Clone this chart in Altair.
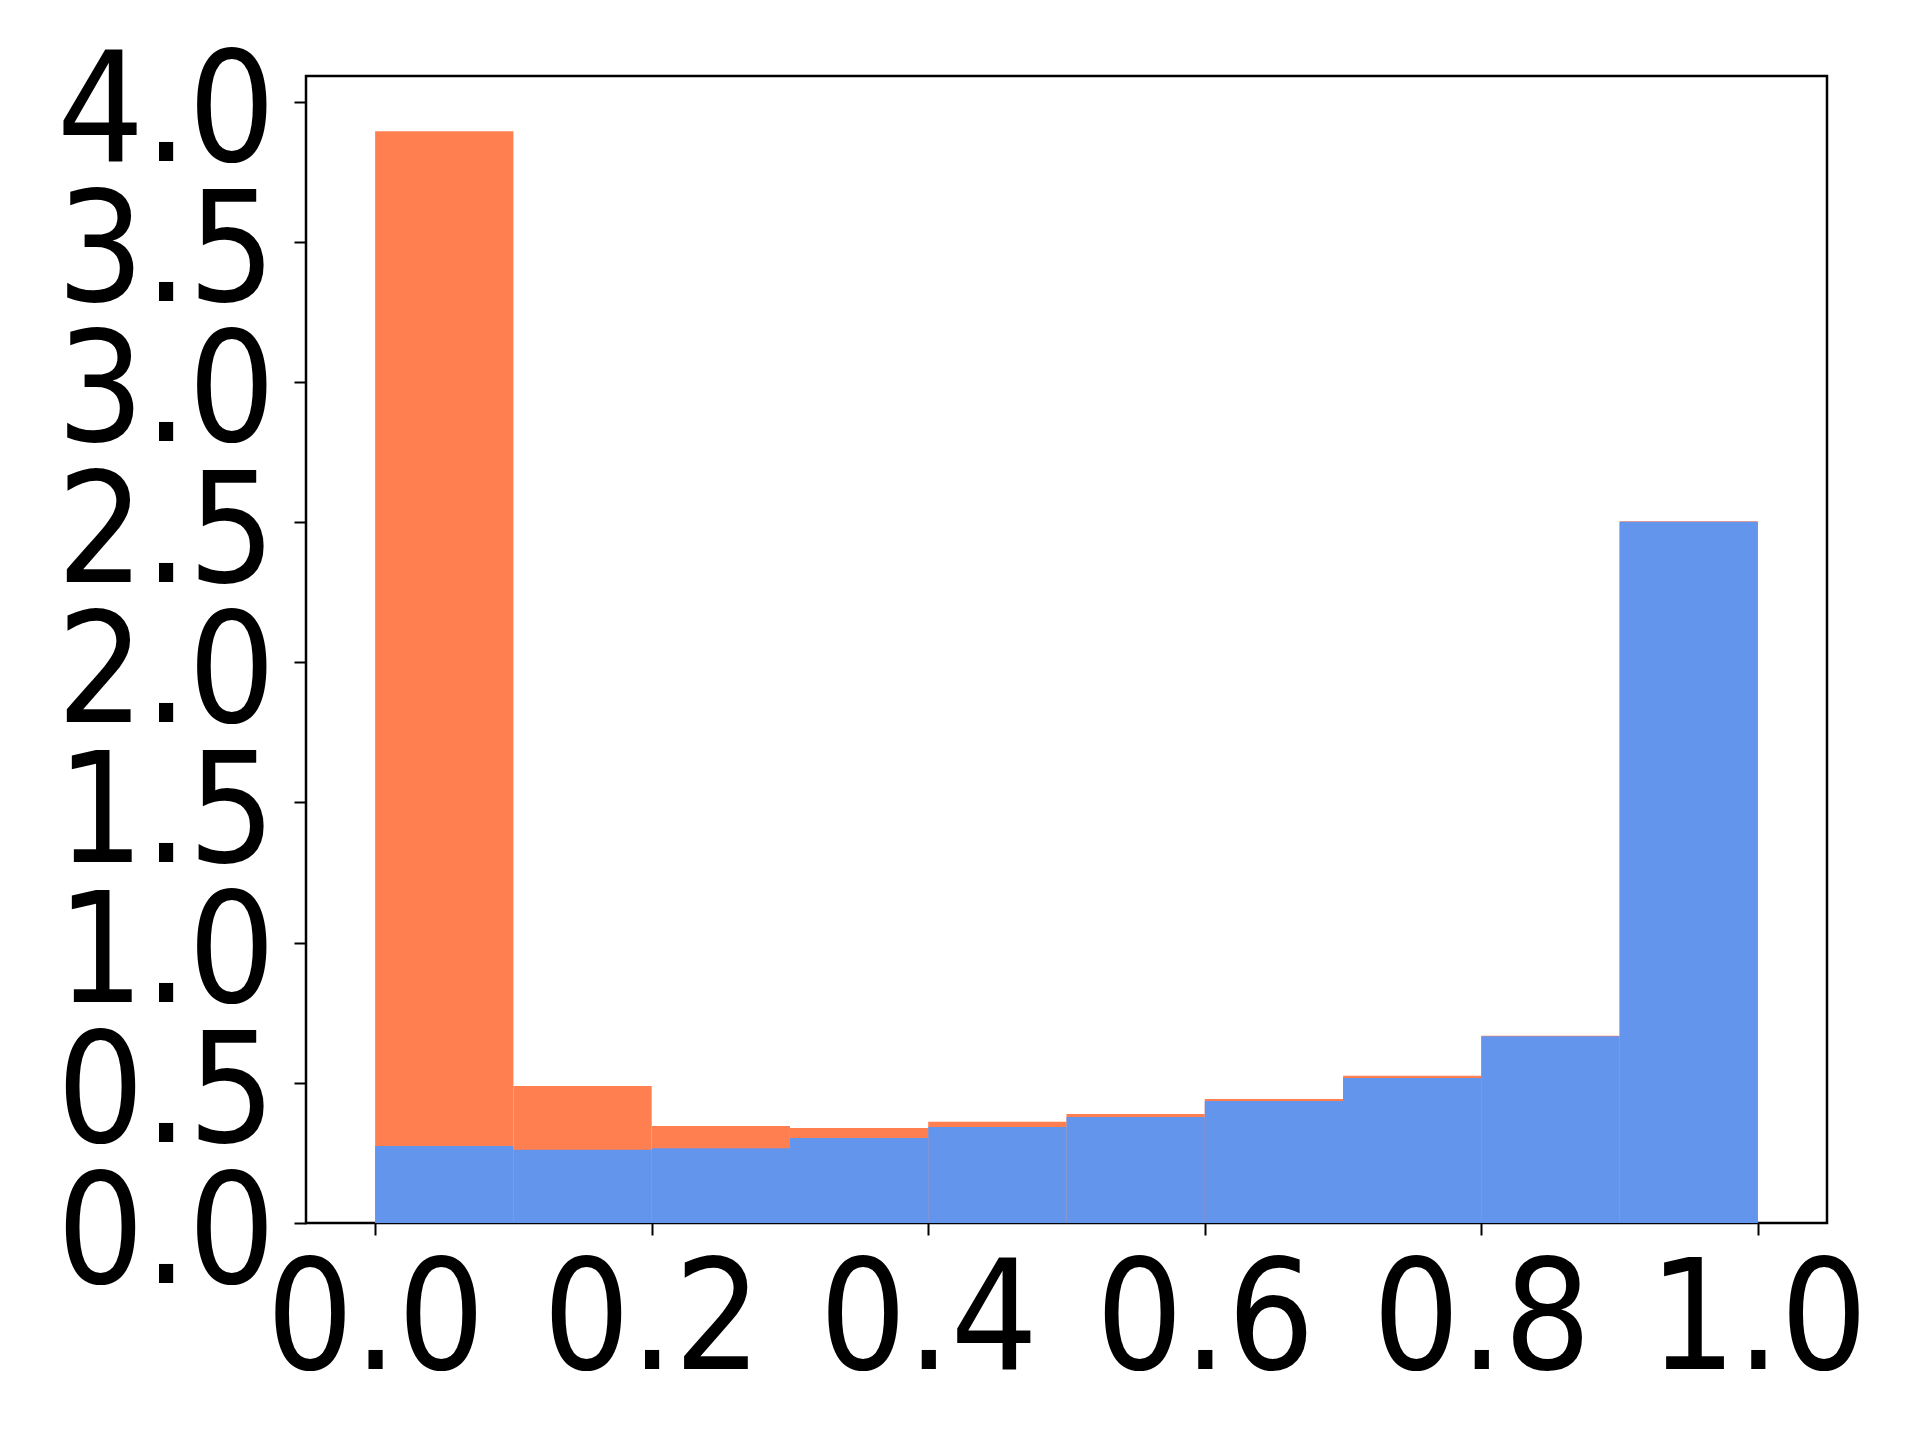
import altair as alt
import pandas as pd

bin_start = [0.0, 0.1, 0.2, 0.3, 0.4, 0.5, 0.6, 0.7, 0.8, 0.9]
bin_end = [0.1, 0.2, 0.3, 0.4, 0.5, 0.6, 0.7, 0.8, 0.9, 1.0]
orange_vals = [3.894, 0.489, 0.346, 0.339, 0.361, 0.389, 0.442, 0.525, 0.668, 2.503]
blue_vals = [0.275, 0.261, 0.267, 0.303, 0.342, 0.378, 0.435, 0.517, 0.666, 2.501]
x_ticks = [0.0, 0.2, 0.4, 0.6, 0.8, 1.0]
y_ticks = [0.0, 0.5, 1.0, 1.5, 2.0, 2.5, 3.0, 3.5, 4.0]

df_o = pd.DataFrame({"x0": bin_start, "x1": bin_end, "v": orange_vals, "z": [0.0] * 10})
df_b = pd.DataFrame({"x0": bin_start, "x1": bin_end, "v": blue_vals, "z": [0.0] * 10})

FONT = "DejaVu Sans Condensed, DejaVu Sans"
FS = 153
xscale = alt.Scale(domain=[-0.05, 1.05], nice=False, zero=False)
yscale = alt.Scale(domain=[0, 4.091], nice=False)

xaxis = alt.Axis(values=x_ticks, format=".1f", title=None, grid=False,
                 labelFontSize=FS, labelFont=FONT, labelColor="black",
                 tickSize=12, tickColor="black", tickWidth=2,
                 labelPadding=12, domain=False, labelFlush=False, labelOverlap=False,
                 labelLimit=2000)
yaxis = alt.Axis(values=y_ticks, format=".1f", title=None, grid=False,
                 labelFontSize=FS, labelFont=FONT, labelColor="black",
                 tickSize=12, tickColor="black", tickWidth=2,
                 labelPadding=19, domain=False, labelFlush=False, labelOverlap=False,
                 labelBaseline="middle", labelOffset=13, labelLimit=2000)

orange = alt.Chart(df_o).mark_rect(color="#FF7F50").encode(
    x=alt.X("x0:Q", scale=xscale, axis=xaxis),
    x2="x1:Q",
    y=alt.Y("v:Q", scale=yscale, axis=yaxis),
    y2="z:Q",
)
blue = alt.Chart(df_b).mark_rect(color="#6495ED").encode(
    x=alt.X("x0:Q", scale=xscale),
    x2="x1:Q",
    y=alt.Y("v:Q", scale=yscale),
    y2="z:Q",
)

chart = alt.layer(orange, blue).properties(
    width=1521, height=1147,
    autosize=alt.AutoSizeParams(type="none"),
    padding={"left": 298, "top": 68, "right": 80, "bottom": 200},
    background="white",
).configure_view(stroke="black", strokeWidth=2.5)

chart.save("out.html", embed_options={"renderer": "svg", "actions": False})
